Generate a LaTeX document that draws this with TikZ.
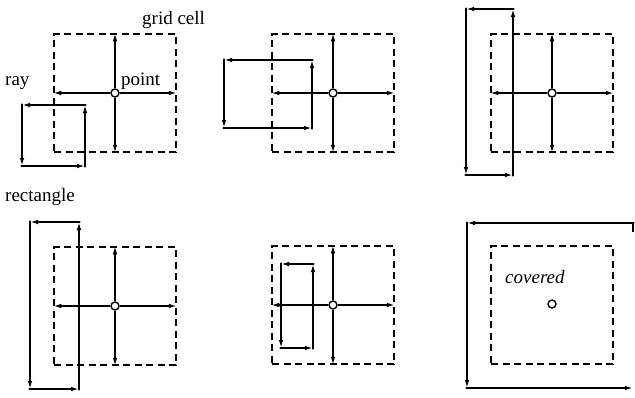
\documentclass[tikz,border=0pt]{standalone}
\usepackage{fontspec}
\setmainfont{Liberation Serif}
\usetikzlibrary{arrows.meta}
\tikzset{
  gridcell/.style={draw, dashed, dash pattern=on 7pt off 4.5pt, line width=1.5pt,
    minimum width=122pt, minimum height=118pt, inner sep=0pt},
  pointnode/.style={circle, draw, line width=1.4pt, fill=white, minimum size=8pt, inner sep=0pt},
  rayarrow/.style={line width=1.4pt, -{Latex[length=8pt,width=4.6pt]}},
  rectarrow/.style={line width=1.6pt, line cap=round, -{Latex[length=8pt,width=4.6pt]}, shorten <=-0.8pt},
  rectline/.style={line width=1.6pt},
  lbl/.style={anchor=base west, inner sep=0pt, font=\fontsize{19}{22}\selectfont},
}
\begin{document}
\begin{tikzpicture}[x=1pt,y=-1pt]
\path[use as bounding box] (0,0) rectangle (635,397);

% ---------- panel 1 ----------
\node[gridcell] (g1) at (115,93) {};
\node[pointnode] (p1) at (115,93) {};
\draw[rayarrow] (p1) -- (g1.north);
\draw[rayarrow] (p1) -- (g1.south);
\draw[rayarrow] (p1) -- (g1.west);
\draw[rayarrow] (p1) -- (g1.east);
\coordinate (r1tl) at (22,105);
\coordinate (r1tr) at (85,105);
\coordinate (r1bl) at (22,166);
\coordinate (r1br) at (85,166);
\draw[rectarrow] (r1tr) -- (r1tl);
\draw[rectarrow] (r1tl) -- (r1bl);
\draw[rectarrow] (r1bl) -- (r1br);
\draw[rectarrow] (r1br) -- (r1tr);
\node[lbl] (tgrid) at (142,24) {grid cell};
\node[lbl] (tray) at (5,85) {ray};
\node[lbl] (tpoint) at (121,85) {point};
\node[lbl] (trect) at (5,201) {rectangle};

% ---------- panel 2 ----------
\node[gridcell] (g2) at (333,93) {};
\node[pointnode] (p2) at (333,93) {};
\draw[rayarrow] (p2) -- (g2.north);
\draw[rayarrow] (p2) -- (g2.south);
\draw[rayarrow] (p2) -- (g2.west);
\draw[rayarrow] (p2) -- (g2.east);
\coordinate (r2tl) at (224,60);
\coordinate (r2tr) at (312,60);
\coordinate (r2bl) at (224,128);
\coordinate (r2br) at (312,128);
\draw[rectarrow] (r2tr) -- (r2tl);
\draw[rectarrow] (r2tl) -- (r2bl);
\draw[rectarrow] (r2bl) -- (r2br);
\draw[rectarrow] (r2br) -- (r2tr);

% ---------- panel 3 ----------
\node[gridcell] (g3) at (552,93) {};
\node[pointnode] (p3) at (552,93) {};
\draw[rayarrow] (p3) -- (g3.north);
\draw[rayarrow] (p3) -- (g3.south);
\draw[rayarrow] (p3) -- (g3.west);
\draw[rayarrow] (p3) -- (g3.east);
\coordinate (r3tl) at (466,9);
\coordinate (r3tr) at (513,9);
\coordinate (r3bl) at (466,175);
\coordinate (r3br) at (513,175);
\draw[rectarrow] (r3tr) -- (r3tl);
\draw[rectarrow] (r3tl) -- (r3bl);
\draw[rectarrow] (r3bl) -- (r3br);
\draw[rectarrow] (r3br) -- (r3tr);

% ---------- panel 4 ----------
\node[gridcell] (g4) at (115,306) {};
\node[pointnode] (p4) at (115,306) {};
\draw[rayarrow] (p4) -- (g4.north);
\draw[rayarrow] (p4) -- (g4.south);
\draw[rayarrow] (p4) -- (g4.west);
\draw[rayarrow] (p4) -- (g4.east);
\coordinate (r4tl) at (30,222);
\coordinate (r4tr) at (79,222);
\coordinate (r4bl) at (30,389);
\coordinate (r4br) at (79,389);
\draw[rectarrow] (r4tr) -- (r4tl);
\draw[rectarrow] (r4tl) -- (r4bl);
\draw[rectarrow] (r4bl) -- (r4br);
\draw[rectarrow] (r4br) -- (r4tr);

% ---------- panel 5 ----------
\node[gridcell] (g5) at (333,305) {};
\node[pointnode] (p5) at (333,305) {};
\draw[rayarrow] (p5) -- (g5.north);
\draw[rayarrow] (p5) -- (g5.south);
\draw[rayarrow] (p5) -- (g5.west);
\draw[rayarrow] (p5) -- (g5.east);
\coordinate (r5tl) at (281,264);
\coordinate (r5tr) at (313,264);
\coordinate (r5bl) at (281,348);
\coordinate (r5br) at (313,348);
\draw[rectarrow] (r5tr) -- (r5tl);
\draw[rectarrow] (r5tl) -- (r5bl);
\draw[rectarrow] (r5bl) -- (r5br);
\draw[rectarrow] (r5br) -- (r5tr);

% ---------- panel 6 ----------
\node[gridcell] (g6) at (552,305) {};
\node[pointnode] (p6) at (552,304) {};
\coordinate (r6tl) at (467,223);
\coordinate (r6tr) at (633,223);
\coordinate (r6bl) at (467,388);
\coordinate (r6br) at (633,388);
\coordinate (r6tick) at (633,232);
\draw[rectarrow] (r6tr) -- (r6tl);
\draw[rectarrow] (r6tl) -- (r6bl);
\draw[rectarrow] (r6bl) -- (r6br);
\draw[rectline] (r6tr) -- (r6tick);
\node[lbl, font=\fontsize{19}{22}\selectfont\itshape] (tcov) at (505,283) {covered};
\end{tikzpicture}
\end{document}
